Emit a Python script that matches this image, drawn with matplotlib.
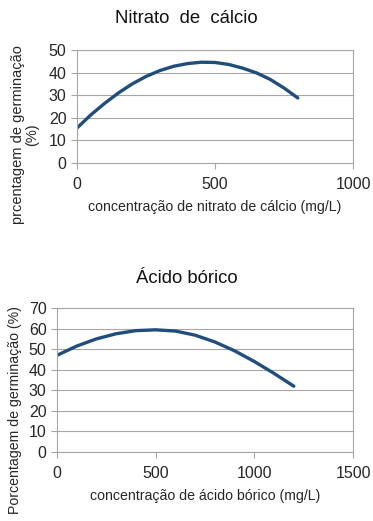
import matplotlib.pyplot as plt

plt.rcParams['font.family'] = ['Liberation Sans', 'DejaVu Sans']

# Nitrato de cálcio curve
ca_x = [0, 50, 100, 150, 200, 250, 300, 350, 400, 450, 500, 550, 600, 650, 700, 750, 800]
ca_y = [15.5, 21.3, 26.4, 31.0, 35.0, 38.3, 40.9, 42.8, 44.0, 44.6, 44.5, 43.6, 42.0, 39.9, 37.0, 33.2, 28.8]

# Ácido bórico curve
bo_x = [0, 100, 200, 300, 400, 500, 600, 700, 800, 900, 1000, 1100, 1200]
bo_y = [47.0, 51.5, 55.0, 57.5, 59.0, 59.4, 58.8, 56.8, 53.5, 49.2, 44.0, 38.2, 32.0]

line_color = '#1f4e7d'
grid_color = '#a6a6a6'
text_color = '#262626'

fig = plt.figure(figsize=(3.73, 5.21), dpi=100)


def style(ax, xmax, xstep, ymax, ystep):
    ax.set_xlim(0, xmax)
    ax.set_ylim(0, ymax)
    ax.set_xticks(range(0, xmax + 1, xstep))
    ax.set_yticks(range(0, ymax + 1, ystep))
    ax.grid(axis='y', color=grid_color, linewidth=0.8)
    ax.set_axisbelow(True)
    for s in ax.spines.values():
        s.set_color(grid_color)
        s.set_linewidth(0.8)
    ax.tick_params(colors=grid_color, labelcolor=text_color, labelsize=11.5,
                   length=4, width=0.8, direction='out')
    ax.tick_params(axis='x', pad=6)


ax1 = fig.add_axes([0.2064, 0.687, 0.74, 0.217])
ax1.plot(ca_x, ca_y, color=line_color, linewidth=2.4, solid_capstyle='round')
style(ax1, 1000, 500, 50, 10)
fig.text(0.5, 0.965, 'Nitrato  de  cálcio', fontsize=13.3, ha='center', va='center',
         color='#111111')
ax1.set_xlabel('concentração de nitrato de cálcio (mg/L)', fontsize=10.2,
               labelpad=6, color=text_color)
fig.text(0.067, 0.741, 'prcentagem de germinação\n(%)', fontsize=10.5,
         rotation=90, ha='center', va='center', linespacing=1.0, color=text_color,
         multialignment='center')

ax2 = fig.add_axes([0.1528, 0.1324, 0.7936, 0.2764])
ax2.plot(bo_x, bo_y, color=line_color, linewidth=2.4, solid_capstyle='round')
style(ax2, 1500, 500, 70, 10)
fig.text(0.5, 0.466, 'Ácido bórico', fontsize=13.3, ha='center', va='center',
         color='#111111')
ax2.set_xlabel('concentração de ácido bórico (mg/L)', fontsize=10.2,
               labelpad=6, color=text_color)
fig.text(0.04, 0.213, 'Porcentagem de germinação (%)', fontsize=10.2,
         rotation=90, ha='center', va='center', color=text_color)

fig.savefig('out.png', dpi=100)
